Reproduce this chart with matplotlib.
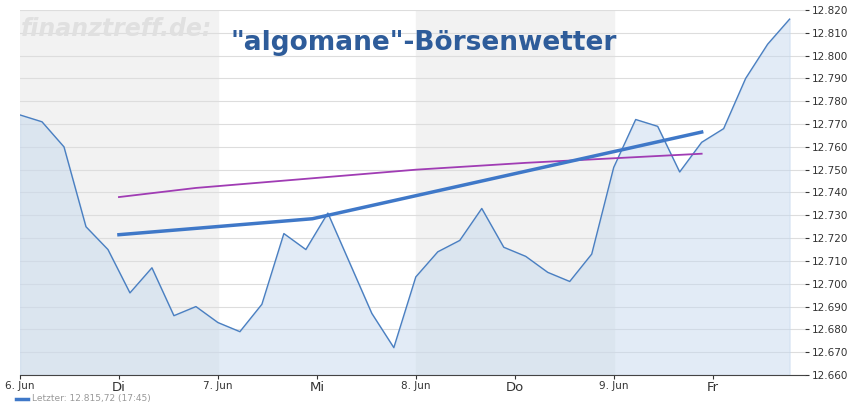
import matplotlib
matplotlib.use("Agg")
import matplotlib.pyplot as plt
import numpy as np

prices = [12774, 12771, 12760, 12725, 12715, 12696, 12707, 12686, 12690, 12683, 12679, 12691,
          12722, 12715, 12731, 12709, 12687, 12672, 12703, 12714, 12719, 12733, 12716, 12712,
          12705, 12701, 12713, 12751, 12772, 12769, 12749, 12762, 12768, 12790, 12805, 12816]
prices = [p / 1000 for p in prices]
trend_x = [4.5, 13.3, 31.0]
trend_y = [12.7215, 12.7285, 12.7665]
avg_x = [4.5, 8, 13, 18, 23, 27, 31]
avg_y = [12.738, 12.742, 12.746, 12.750, 12.753, 12.755, 12.757]
day_labels = ["6. Jun", "Di", "7. Jun", "Mi", "8. Jun", "Do", "9. Jun", "Fr"]
yticks = np.round(np.arange(12.660, 12.8201, 0.010), 3)

fig = plt.figure(figsize=(8.47, 4.09), dpi=100)
ax = fig.add_axes([20/847, (409-375)/409, 785/847, 365/409])
x = np.arange(len(prices))
ax.set_xlim(0, 35.7)
ax.set_ylim(12.660, 12.820)
for d in (0, 18):
    ax.axvspan(d, d + 9, color="#f2f2f2", zorder=0)
for v in yticks:
    ax.axhline(v, color="#dddddd", lw=0.8, zorder=1)
ax.fill_between(x, prices, 12.660, color="#c6d9ee", alpha=0.5, zorder=2)
ax.plot(x, prices, color="#4a7fc1", lw=1.0, zorder=3)
ax.plot(avg_x, avg_y, color="#a03cb4", lw=1.3, zorder=4)
ax.plot(trend_x, trend_y, color="#3f78c8", lw=2.5, zorder=5)
ax.yaxis.tick_right()
ax.set_yticks(yticks)
ax.set_yticklabels([f"{v:,.3f}" for v in yticks], fontsize=7.5)
ax.set_xticks([0, 4.5, 9, 13.5, 18, 22.5, 27, 31.5])
ax.set_xticklabels(day_labels)
for i, t in enumerate(ax.get_xticklabels()):
    t.set_fontsize(7.5 if i % 2 == 0 else 9.5)
ax.tick_params(axis="x", length=3, pad=1, colors="#333333")
ax.tick_params(axis="y", length=3, pad=2, colors="#333333")
for s in ("top", "right", "left"):
    ax.spines[s].set_visible(False)
ax.spines["bottom"].set_color("#444444")
fig.text(0.025, 0.93, "finanztreff.de:", fontsize=17, style="italic", weight="bold",
         color="#e0e0e0", va="center")
fig.text(0.5, 0.895, "\"algomane\"-Börsenwetter", fontsize=19, weight="bold",
         color="#2e5c9a", ha="center", va="center")
fig.add_artist(plt.Line2D([16/847, 28/847], [10/409, 10/409], color="#3f78c8", lw=2.5))
fig.text(32/847, 10/409, "Letzter: 12.815,72 (17:45)", fontsize=6.5, color="#999999", va="center")
fig.savefig("out.png", dpi=100)
